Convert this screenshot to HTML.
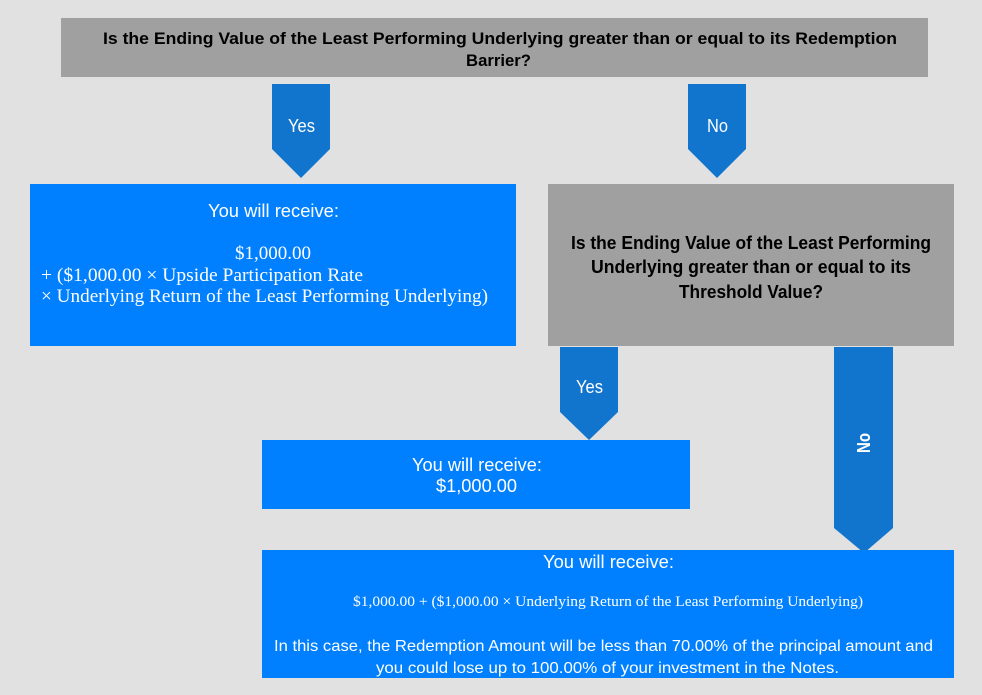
<!DOCTYPE html>
<html>
<head>
<meta charset="utf-8">
<style>
  html,body{margin:0;padding:0;background:#e1e1e1;}
  svg{display:block;}
  .cal{font-family:"Liberation Sans",sans-serif;}
  .ser{font-family:"Liberation Serif",serif;}
</style>
</head>
<body>
<svg width="982" height="695" viewBox="0 0 982 695" xmlns="http://www.w3.org/2000/svg">
  <rect x="0" y="0" width="982" height="695" fill="#e1e1e1"/>

  <!-- Top question box -->
  <rect x="61" y="18" width="867" height="59" fill="#a0a0a0"/>
  <text class="cal" x="103" y="44" font-size="17" font-weight="bold" fill="#000" textLength="794" lengthAdjust="spacingAndGlyphs">Is the Ending Value of the Least Performing Underlying greater than or equal to its Redemption</text>
  <text class="cal" x="466" y="66" font-size="17" font-weight="bold" fill="#000" textLength="65" lengthAdjust="spacingAndGlyphs">Barrier?</text>

  <!-- Yes arrow 1 -->
  <polygon points="272,84 330,84 330,149 301,178 272,149" fill="#1174cd"/>
  <text class="cal" x="288" y="132" font-size="18" fill="#fff" textLength="27" lengthAdjust="spacingAndGlyphs">Yes</text>

  <!-- No arrow 1 -->
  <polygon points="688,84 746,84 746,149 717,178 688,149" fill="#1174cd"/>
  <text class="cal" x="707" y="132" font-size="18" fill="#fff" textLength="21" lengthAdjust="spacingAndGlyphs">No</text>

  <!-- Left blue box -->
  <rect x="30" y="184" width="486" height="162" fill="#0080ff"/>
  <text class="cal" x="208" y="217" font-size="18" fill="#fff" textLength="131" lengthAdjust="spacingAndGlyphs">You will receive:</text>
  <text class="ser" x="235" y="259" font-size="19" fill="#fff" textLength="76" lengthAdjust="spacingAndGlyphs">$1,000.00</text>
  <text class="ser" x="41" y="281" font-size="19" fill="#fff" textLength="322" lengthAdjust="spacingAndGlyphs">+ ($1,000.00 × Upside Participation Rate</text>
  <text class="ser" x="41" y="302" font-size="19" fill="#fff" textLength="447" lengthAdjust="spacingAndGlyphs">× Underlying Return of the Least Performing Underlying)</text>

  <!-- Right gray box -->
  <rect x="548" y="184" width="406" height="162" fill="#a0a0a0"/>
  <text class="cal" x="571" y="249" font-size="18" font-weight="bold" fill="#000" textLength="360" lengthAdjust="spacingAndGlyphs">Is the Ending Value of the Least Performing</text>
  <text class="cal" x="591" y="273" font-size="18" font-weight="bold" fill="#000" textLength="320" lengthAdjust="spacingAndGlyphs">Underlying greater than or equal to its</text>
  <text class="cal" x="679" y="298" font-size="18" font-weight="bold" fill="#000" textLength="144" lengthAdjust="spacingAndGlyphs">Threshold Value?</text>

  <!-- Yes arrow 2 -->
  <polygon points="560,347 618,347 618,412 589,440 560,412" fill="#1174cd"/>
  <text class="cal" x="576" y="393" font-size="18" fill="#fff" textLength="27" lengthAdjust="spacingAndGlyphs">Yes</text>

  <!-- No arrow 2 -->
  <polygon points="834,347 893,347 893,528 864,553 834,528" fill="#1174cd"/>
  <text class="cal" transform="translate(870,443) rotate(-90)" x="0" y="0" text-anchor="middle" font-size="18" font-weight="bold" fill="#fff" textLength="20" lengthAdjust="spacingAndGlyphs">No</text>

  <!-- Middle blue box -->
  <rect x="262" y="440" width="428" height="69" fill="#0080ff"/>
  <text class="cal" x="412" y="471" font-size="18" fill="#fff" textLength="130" lengthAdjust="spacingAndGlyphs">You will receive:</text>
  <text class="cal" x="436" y="492" font-size="18" fill="#fff" textLength="81" lengthAdjust="spacingAndGlyphs">$1,000.00</text>

  <!-- Bottom blue box -->
  <rect x="262" y="550" width="692" height="128" fill="#0080ff"/>
  <text class="cal" x="543" y="568" font-size="18.5" fill="#fff" textLength="131" lengthAdjust="spacingAndGlyphs">You will receive:</text>
  <text class="ser" x="353" y="606" font-size="14.5" fill="#fff" textLength="510" lengthAdjust="spacingAndGlyphs">$1,000.00 + ($1,000.00 × Underlying Return of the Least Performing Underlying)</text>
  <text class="cal" x="274" y="651" font-size="16" fill="#fff" textLength="659" lengthAdjust="spacingAndGlyphs">In this case, the Redemption Amount will be less than 70.00% of the principal amount and</text>
  <text class="cal" x="376" y="673" font-size="16" fill="#fff" textLength="463" lengthAdjust="spacingAndGlyphs">you could lose up to 100.00% of your investment in the Notes.</text>
</svg>
</body>
</html>
